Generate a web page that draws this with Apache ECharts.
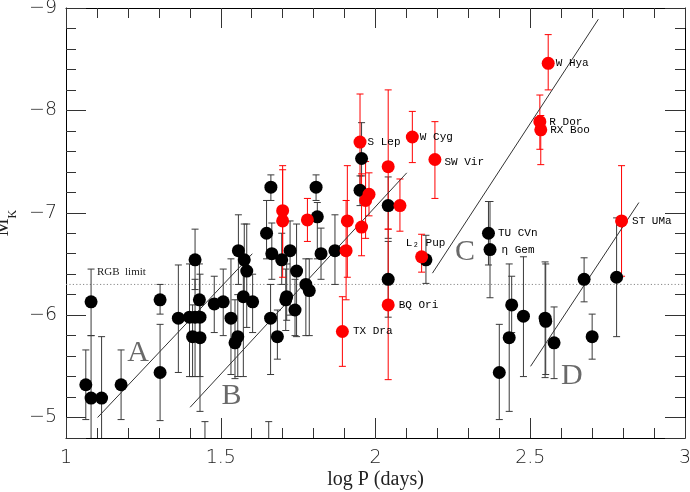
<!DOCTYPE html>
<html><head><meta charset="utf-8">
<script src="https://cdn.jsdelivr.net/npm/echarts@6/dist/echarts.min.js"></script>
<style>html,body{margin:0;padding:0;background:#fff}#c{width:690px;height:492px}</style>
</head><body><div id="c"></div>
<script>
// ---- tick labels ----
const xTickValues = [1, 1.5, 2, 2.5, 3];
const yTickValues = [-9, -8, -7, -6, -5];

// ---- black points (log P, M_K, error bar top, error bar bottom) ----
const blackLogP = [1.064,1.081,1.081,1.115,1.178,1.304,1.304,1.363,1.399,1.417,1.417,1.433,1.409,1.433,1.431,1.479,1.508,1.533,1.546,1.555,1.557,1.576,1.584,1.573,1.603,1.661,1.665,1.683,1.697,1.724,1.745,1.710,1.713,1.740,1.775,1.786,1.824,1.869,1.662,1.648,1.808,1.812,1.955,1.950,2.041,2.041,2.163,2.365,2.370,2.400,2.432,2.440,2.478,2.548,2.550,2.577,2.674,2.700,2.779,1.449,1.655];
const blackMK   = [-5.32,-5.19,-6.13,-5.19,-5.32,-6.15,-5.44,-5.97,-5.98,-6.54,-5.98,-5.98,-5.79,-5.78,-6.15,-6.11,-6.13,-5.97,-5.73,-5.79,-6.63,-6.54,-6.43,-6.18,-6.13,-5.97,-6.60,-5.79,-6.54,-6.63,-6.43,-6.15,-6.18,-6.05,-6.30,-6.24,-6.60,-6.63,-7.25,-6.80,-7.25,-6.96,-7.53,-7.22,-7.07,-6.35,-6.54,-6.80,-6.64,-5.44,-5.78,-6.10,-5.99,-5.97,-5.94,-5.73,-6.35,-5.79,-6.37,-4.60,-4.60];
const blackErrTop = [-5.66,-5.80,-6.45,-5.79,-5.66,-6.30,-5.91,-6.49,-6.50,-6.84,-6.35,-6.40,-6.10,-6.10,-6.50,-6.38,-6.45,-6.55,-6.15,-6.20,-6.98,-6.89,-6.89,-6.55,-6.40,-6.30,-6.90,-6.05,-6.80,-6.92,-6.89,-6.45,-6.50,-6.35,-6.55,-6.55,-6.85,-6.98,-7.37,-7.12,-7.37,-7.10,-7.88,-7.36,-7.35,-6.72,-6.78,-7.11,-7.11,-5.91,-6.50,-6.38,-6.57,-6.52,-6.50,-6.08,-6.56,-6.01,-6.95,-4.96,-4.96];
const blackErrBottom = [-4.98,-4.50,-5.80,-4.50,-4.98,-6.01,-4.97,-5.44,-5.40,-6.25,-5.40,-5.40,-5.40,-5.06,-5.80,-5.83,-5.80,-5.42,-5.38,-5.40,-6.30,-6.15,-5.88,-5.40,-5.83,-5.42,-6.35,-5.57,-6.30,-6.00,-5.79,-5.85,-5.95,-5.80,-5.80,-5.80,-6.35,-6.30,-7.12,-6.55,-7.12,-6.55,-7.36,-7.07,-6.75,-5.98,-6.31,-6.49,-6.17,-4.98,-5.06,-5.83,-5.40,-5.39,-5.42,-5.38,-6.13,-5.57,-5.79,-4.20,-4.20];
const blackNames = {47: 'TU CVn', 48: 'η Gem'};

// ---- red points ----
const redLogP = [1.893,2.041,2.041,1.950,2.119,2.192,2.558,2.531,2.534,2.795,2.149,1.700,1.700,1.780,1.905,1.909,1.955,1.968,1.979,2.079];
const redMK   = [-5.84,-6.10,-7.45,-7.69,-7.74,-7.52,-8.46,-7.89,-7.81,-6.92,-6.57,-7.02,-6.92,-6.93,-6.63,-6.92,-6.86,-7.12,-7.18,-7.07];
const redErrTop = [-6.18,-6.84,-8.20,-8.16,-7.99,-7.89,-8.74,-8.15,-7.95,-7.46,-6.79,-7.46,-7.42,-7.14,-7.12,-7.46,-7.38,-7.50,-7.39,-7.33];
const redErrBottom = [-5.50,-5.37,-6.84,-7.25,-7.49,-7.14,-8.20,-7.62,-7.47,-6.38,-6.42,-6.55,-6.37,-6.72,-6.15,-6.37,-6.58,-6.75,-6.97,-6.82];
const redNames = ['TX Dra','BQ Ori','','S Lep','W Cyg','SW Vir','W Hya','R Dor','RX Boo','ST UMa','L₂ Pup','','','','','','','','',''];

// ---- relations (end points) ----
const lineA = [[1.102,-5.00],[1.602,-6.60]];
const lineB = [[1.401,-5.10],[2.101,-7.39]];
const lineC = [[2.184,-6.41],[2.720,-8.89]];
const lineD = [[2.501,-5.50],[2.851,-7.10]];
const seqNames = ['A','B','C','D'];
const seqLabelPos = [[1.233,-5.63],[1.535,-5.21],[2.289,-6.62],[2.634,-5.40]];
const rgbLimit = -6.3;

const minus = v => (v < 0 ? '\u2212' + Math.abs(v) : String(v));

function errRender(color) {
  return function (params, api) {
    const x = api.value(0);
    const p1 = api.coord([x, api.value(1)]);
    const p2 = api.coord([x, api.value(2)]);
    const w = 3.5;
    const st = {stroke: color, lineWidth: 1};
    return {type: 'group', children: [
      {type: 'line', shape: {x1: p1[0], y1: p1[1], x2: p2[0], y2: p2[1]}, style: st},
      {type: 'line', shape: {x1: p1[0]-w, y1: p1[1], x2: p1[0]+w, y2: p1[1]}, style: st},
      {type: 'line', shape: {x1: p2[0]-w, y1: p2[1], x2: p2[0]+w, y2: p2[1]}, style: st}
    ]};
  };
}

const starFont = {fontFamily: 'Liberation Mono', fontSize: 11, color: '#000'};
const labelOverride = {
  'L₂ Pup': {position: 'top', distance: 2, offset: [4, 0]},
  'SW Vir': {offset: [2, 3]},
  'ST UMa': {offset: [3, 0]},
  'BQ Ori': {offset: [3, 0]},
  'TX Dra': {offset: [3, 0]},
  'TU CVn': {offset: [2, 0]},
  'η Gem': {offset: [4, 0]},
  'R Dor': {offset: [2, 0]},
  'RX Boo': {offset: [2, 0]}
};

const blackData = blackLogP.map((x, i) => {
  const d = {value: [x, blackMK[i]]};
  const nm = blackNames[i];
  if (nm) d.label = Object.assign({show: true, position: 'right', distance: 1, formatter: nm}, starFont, labelOverride[nm] || {});
  return d;
});
const redData = redLogP.map((x, i) => {
  const d = {value: [x, redMK[i]]};
  const nm = redNames[i];
  if (nm) d.label = Object.assign({show: true, position: 'right', distance: 1, formatter: nm}, starFont, labelOverride[nm] || {});
  return d;
});

const axisCommonX = {
  type: 'value', min: 1, max: 3, interval: 0.5,
  axisLine: {show: true, onZero: false, lineStyle: {color: '#000', width: 1}},
  axisTick: {show: true, inside: true, length: 20, lineStyle: {color: '#333'}},
  minorTick: {show: true, splitNumber: 5, length: 10, lineStyle: {color: '#333'}},
  splitLine: {show: false}, minorSplitLine: {show: false}
};
const axisCommonY = {
  type: 'value', min: -9, max: -4.8, interval: 1, inverse: true,
  axisLine: {show: true, onZero: false, lineStyle: {color: '#000', width: 1}},
  axisTick: {show: true, inside: true, length: 20, lineStyle: {color: '#333'}},
  minorTick: {show: true, splitNumber: 5, length: 10, lineStyle: {color: '#333'}},
  splitLine: {show: false}, minorSplitLine: {show: false}
};
const tickFont = {fontFamily: 'DejaVu Sans', fontSize: 19, fontWeight: 200, color: '#222'};

const chart = echarts.init(document.getElementById('c'), null, {renderer: 'canvas'});
chart.setOption({
  animation: false,
  backgroundColor: '#fff',
  grid: {left: 66, right: 5, top: 8, bottom: 54, outerBoundsMode: 'none'},
  xAxis: [
    Object.assign({}, axisCommonX, {
      position: 'bottom',
      axisLabel: Object.assign({margin: 11, formatter: v => (xTickValues.includes(v) ? String(v) : '')}, tickFont),
      name: 'log P (days)', nameLocation: 'middle', nameGap: 32, nameMoveOverlap: false,
      nameTextStyle: {fontFamily: 'Liberation Serif', fontSize: 20, color: '#222'}
    }),
    Object.assign({}, axisCommonX, {position: 'top', axisLabel: {show: false}})
  ],
  yAxis: [
    Object.assign({}, axisCommonY, {
      position: 'left',
      axisLabel: Object.assign({margin: 9, formatter: v => (yTickValues.includes(v) ? minus(v) : '')}, tickFont),
      name: '{m|M}{k|K}', nameLocation: 'middle', nameGap: 47, nameRotate: 90, nameMoveOverlap: false,
      nameTextStyle: {fontFamily: 'Liberation Serif', color: '#222', rich: {
        m: {fontFamily: 'Liberation Serif', fontSize: 20, lineHeight: 26, verticalAlign: 'top', color: '#222'},
        k: {fontFamily: 'Liberation Serif', fontSize: 12, lineHeight: 26, verticalAlign: 'bottom', color: '#222'}
      }}
    }),
    Object.assign({}, axisCommonY, {position: 'right', axisLabel: {show: false}})
  ],
  series: [
    {type: 'line', data: [[1, rgbLimit], [3, rgbLimit]], symbol: 'none', z: 1,
     lineStyle: {type: [1.2, 2.2], width: 1, color: '#888'},
     markPoint: {symbol: 'circle', symbolSize: 0, data: [{coord: [1.10, -6.42], value: 'RGB limit'}],
       label: {show: true, position: 'right', distance: 0, formatter: 'RGB  limit', fontFamily: 'Liberation Serif', fontSize: 11, color: '#222'}}},
    {type: 'custom', renderItem: errRender('#3a3a3a'), clip: true, z: 2,
     data: blackLogP.map((x, i) => [x, blackErrTop[i], blackErrBottom[i]]), encode: {x: 0, y: [1, 2]}},
    {type: 'custom', renderItem: errRender('#ff0000'), clip: true, z: 2,
     data: redLogP.map((x, i) => [x, redErrTop[i], redErrBottom[i]]), encode: {x: 0, y: [1, 2]}},
    ...[lineA, lineB, lineC, lineD].map(l => ({type: 'line', data: l, symbol: 'none', z: 3,
      lineStyle: {color: '#333', width: 1}})),
    {type: 'scatter', data: seqLabelPos.map((p, i) => ({value: p, name: seqNames[i]})), symbolSize: 0, z: 3,
     label: {show: true, position: 'inside', formatter: p => p.name, fontFamily: 'Liberation Serif', fontSize: 30, color: '#444'}},
    {type: 'scatter', data: blackData, symbol: 'circle', symbolSize: 13, z: 4, itemStyle: {color: '#000', opacity: 1}},
    {type: 'scatter', data: redData, symbol: 'circle', symbolSize: 13, z: 5, itemStyle: {color: '#ff0000', opacity: 1}}
  ]
});
</script></body></html>
